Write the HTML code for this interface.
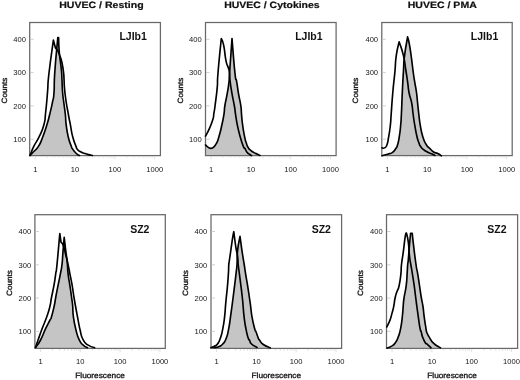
<!DOCTYPE html>
<html><head><meta charset="utf-8"><title>HUVEC flow cytometry</title>
<style>
html,body{margin:0;padding:0;background:#fff;}
body{width:520px;height:380px;overflow:hidden;}
svg{display:block;font-family:"Liberation Sans",Arial,sans-serif;}
.t{font-size:10.5px;font-weight:bold;fill:#111;}
.t2{text-rendering:geometricPrecision;font-weight:bold;fill:#111;stroke:#111;stroke-width:0.2px;}
.k{font-size:8px;fill:#151515;}
.a{font-size:7.7px;fill:#111;stroke:#111;stroke-width:0.3px;text-rendering:geometricPrecision;}
.f{fill:none;stroke:#686868;stroke-width:1.25;}
.c{fill:none;stroke:#000;stroke-width:1.65;stroke-linejoin:round;stroke-linecap:round;}
.g{fill:#c5c5c5;stroke:none;}
.tk{stroke:#d8d8d8;stroke-width:0.8;fill:none;}
.ty{stroke:#c4c4c4;}
</style></head><body>
<svg width="520" height="380" viewBox="0 0 520 380">
<rect width="520" height="380" fill="#fff"/>
<g id="p1">
<path class="g" d="M30.0,155.6 L30.0,155.5 C30.9,154.5 30.4,155.0 33.0,152.2 C35.6,149.4 35.7,150.8 38.6,146.1 C41.5,141.4 40.3,143.1 42.8,136.7 C45.3,130.3 44.8,131.6 46.9,124.8 C49.0,118.0 48.1,120.8 49.8,114.0 C51.5,107.2 51.2,108.5 52.5,102.0 C53.8,95.5 53.3,101.5 54.0,92.5 C54.7,83.5 53.7,88.5 54.8,72.0 C55.9,55.5 56.9,47.9 57.8,37.6 C58.0,37.6 58.4,37.6 58.6,37.6 C58.8,41.7 58.4,41.6 59.2,51.3 C60.0,61.0 60.6,61.4 61.4,70.0 C62.2,78.6 61.6,73.2 62.0,80.0 C62.4,86.8 62.0,85.3 62.6,92.5 C63.2,99.7 63.2,97.5 64.0,104.0 C64.8,110.5 64.6,107.8 65.3,114.0 C66.0,120.2 65.3,118.0 66.2,124.8 C67.1,131.6 66.7,130.3 68.2,136.7 C69.7,143.1 69.9,142.4 71.2,146.1 C72.5,149.8 71.5,147.1 72.6,148.9 C73.7,150.7 73.4,150.3 74.9,152.0 C76.4,153.7 76.3,153.5 77.7,154.6 C79.1,155.7 79.0,155.2 79.5,155.5 L79.5,155.6Z"/>
<rect class="f" x="29.7" y="22.5" width="130.7" height="133.1"/>
<path class="tk" d="M35.3,156.1v3.2M47.3,156.1v1.8M54.3,156.1v1.8M59.3,156.1v1.8M63.1,156.1v1.8M66.3,156.1v1.8M68.9,156.1v1.8M71.2,156.1v1.8M73.3,156.1v1.8M75.1,156.1v3.2M87.1,156.1v1.8M94.1,156.1v1.8M99.1,156.1v1.8M102.9,156.1v1.8M106.1,156.1v1.8M108.7,156.1v1.8M111.0,156.1v1.8M113.1,156.1v1.8M114.9,156.1v3.2M126.9,156.1v1.8M133.9,156.1v1.8M138.9,156.1v1.8M142.7,156.1v1.8M145.9,156.1v1.8M148.5,156.1v1.8M150.8,156.1v1.8M152.9,156.1v1.8M154.7,156.1v3.2"/>
<path class="tk ty" d="M30.2,39.3h3.5M30.2,72.6h3.5M30.2,105.9h3.5M30.2,139.2h3.5"/>
<path class="c" d="M30.0,155.5 C30.9,154.5 30.4,155.0 33.0,152.2 C35.6,149.4 35.7,150.8 38.6,146.1 C41.5,141.4 40.3,143.1 42.8,136.7 C45.3,130.3 44.8,131.6 46.9,124.8 C49.0,118.0 48.1,120.8 49.8,114.0 C51.5,107.2 51.2,108.5 52.5,102.0 C53.8,95.5 53.3,101.5 54.0,92.5 C54.7,83.5 53.7,88.5 54.8,72.0 C55.9,55.5 56.9,47.9 57.8,37.6 C58.0,37.6 58.4,37.6 58.6,37.6 C58.8,41.7 58.4,41.6 59.2,51.3 C60.0,61.0 60.6,61.4 61.4,70.0 C62.2,78.6 61.6,73.2 62.0,80.0 C62.4,86.8 62.0,85.3 62.6,92.5 C63.2,99.7 63.2,97.5 64.0,104.0 C64.8,110.5 64.6,107.8 65.3,114.0 C66.0,120.2 65.3,118.0 66.2,124.8 C67.1,131.6 66.7,130.3 68.2,136.7 C69.7,143.1 69.9,142.4 71.2,146.1 C72.5,149.8 71.5,147.1 72.6,148.9 C73.7,150.7 73.4,150.3 74.9,152.0 C76.4,153.7 76.3,153.5 77.7,154.6 C79.1,155.7 79.0,155.2 79.5,155.5"/>
<path class="c" d="M30.0,155.5 C31.2,152.7 31.1,151.7 33.9,146.1 C36.7,140.5 36.2,143.1 39.2,136.7 C42.2,130.3 42.0,131.9 43.9,124.8 C45.8,117.7 44.5,122.7 45.6,113.0 C46.7,103.3 46.5,104.5 47.5,92.5 C48.5,80.5 47.2,88.7 49.0,73.0 C50.8,57.3 52.1,50.0 53.4,40.1 C54.0,42.4 54.8,45.5 55.4,47.8 C56.5,49.6 56.7,47.3 59.0,53.7 C61.3,60.1 61.3,57.4 63.1,69.0 C64.9,80.6 63.3,79.0 64.9,92.5 C66.5,106.0 66.6,104.3 68.3,114.0 C70.0,123.7 69.1,118.0 70.4,124.8 C71.7,131.6 71.0,130.3 72.7,136.7 C74.4,143.1 74.5,142.3 75.9,146.1 C77.3,149.9 76.1,147.8 77.5,149.5 C78.9,151.2 78.6,150.7 80.6,151.8 C82.5,152.9 81.7,152.4 84.0,153.2 C86.3,154.0 85.9,153.9 88.4,154.6 C91.0,155.3 91.3,155.2 92.5,155.5"/>
<text class="k" text-anchor="end" transform="translate(26.0,42.0) scale(0.95,1)">400</text>
<text class="k" text-anchor="end" transform="translate(26.0,75.3) scale(0.95,1)">300</text>
<text class="k" text-anchor="end" transform="translate(26.0,108.6) scale(0.95,1)">200</text>
<text class="k" text-anchor="end" transform="translate(26.0,141.9) scale(0.95,1)">100</text>
<text class="k" text-anchor="middle" transform="translate(35.3,171.7) scale(0.95,1)">1</text>
<text class="k" text-anchor="middle" transform="translate(75.1,171.7) scale(0.95,1)">10</text>
<text class="k" text-anchor="middle" transform="translate(114.9,171.7) scale(0.95,1)">100</text>
<text class="k" text-anchor="middle" transform="translate(154.7,171.7) scale(0.95,1)">1000</text>
<text class="a" text-anchor="middle" transform="translate(6.8,90.5) rotate(-90) scale(1.06,1)">Counts</text>
<text class="t" text-anchor="end" x="146.9" y="40.3">LJIb1</text>
<text class="t2" style="font-size:9.2px" transform="translate(59.25,8.1) scale(1.1480,1)">HUVEC / Resting</text>
</g>
<g id="p2">
<path class="g" d="M205.5,155.6 L205.5,145.0 C207.1,146.0 207.7,148.3 210.7,148.3 C213.7,148.3 212.9,148.5 215.4,145.0 C217.9,141.5 217.0,142.8 218.9,136.7 C220.8,130.6 220.4,131.6 221.9,124.8 C223.4,118.0 223.1,119.8 224.0,114.0 C224.9,108.2 223.9,111.6 224.9,105.5 C225.9,99.4 226.0,100.8 227.2,93.7 C228.4,86.6 228.3,88.1 229.0,81.8 C229.7,75.5 228.7,85.6 229.6,72.6 C230.5,59.6 231.3,48.7 232.0,38.5 C232.9,48.7 233.5,59.5 234.9,72.5 C236.3,85.5 235.6,75.4 236.7,81.8 C237.8,88.2 237.3,86.6 238.5,93.7 C239.7,100.8 239.9,99.4 240.8,105.5 C241.7,111.6 241.0,108.2 241.5,114.0 C242.0,119.8 241.7,118.0 242.6,124.8 C243.5,131.6 243.5,131.2 244.6,136.7 C245.7,142.2 245.2,139.7 246.3,143.0 C247.4,146.3 246.9,145.5 248.3,147.8 C249.7,150.1 249.3,149.2 251.0,150.6 C252.7,152.0 252.1,151.5 254.0,152.6 C255.9,153.7 255.7,153.4 257.5,154.3 C259.3,155.2 259.2,155.1 260.0,155.5 L260.0,155.6Z"/>
<rect class="f" x="205.5" y="22.5" width="130.6" height="133.1"/>
<path class="tk" d="M211.1,156.1v3.2M223.1,156.1v1.8M230.1,156.1v1.8M235.1,156.1v1.8M238.9,156.1v1.8M242.1,156.1v1.8M244.7,156.1v1.8M247.0,156.1v1.8M249.1,156.1v1.8M250.9,156.1v3.2M262.9,156.1v1.8M269.9,156.1v1.8M274.9,156.1v1.8M278.7,156.1v1.8M281.9,156.1v1.8M284.5,156.1v1.8M286.8,156.1v1.8M288.9,156.1v1.8M290.7,156.1v3.2M302.7,156.1v1.8M309.7,156.1v1.8M314.7,156.1v1.8M318.5,156.1v1.8M321.7,156.1v1.8M324.3,156.1v1.8M326.6,156.1v1.8M328.7,156.1v1.8M330.5,156.1v3.2"/>
<path class="tk ty" d="M206.0,39.3h3.5M206.0,72.6h3.5M206.0,105.9h3.5M206.0,139.2h3.5"/>
<path class="c" d="M205.5,145.0 C207.1,146.0 207.7,148.3 210.7,148.3 C213.7,148.3 212.9,148.5 215.4,145.0 C217.9,141.5 217.0,142.8 218.9,136.7 C220.8,130.6 220.4,131.6 221.9,124.8 C223.4,118.0 223.1,119.8 224.0,114.0 C224.9,108.2 223.9,111.6 224.9,105.5 C225.9,99.4 226.0,100.8 227.2,93.7 C228.4,86.6 228.3,88.1 229.0,81.8 C229.7,75.5 228.7,85.6 229.6,72.6 C230.5,59.6 231.3,48.7 232.0,38.5 C232.9,48.7 233.5,59.5 234.9,72.5 C236.3,85.5 235.6,75.4 236.7,81.8 C237.8,88.2 237.3,86.6 238.5,93.7 C239.7,100.8 239.9,99.4 240.8,105.5 C241.7,111.6 241.0,108.2 241.5,114.0 C242.0,119.8 241.7,118.0 242.6,124.8 C243.5,131.6 243.5,131.2 244.6,136.7 C245.7,142.2 245.2,139.7 246.3,143.0 C247.4,146.3 246.9,145.5 248.3,147.8 C249.7,150.1 249.3,149.2 251.0,150.6 C252.7,152.0 252.1,151.5 254.0,152.6 C255.9,153.7 255.7,153.4 257.5,154.3 C259.3,155.2 259.2,155.1 260.0,155.5"/>
<path class="c" d="M205.5,136.1 C206.7,133.8 207.2,133.6 209.5,128.4 C211.8,123.2 211.7,123.2 213.0,118.9 C214.3,114.6 213.2,118.0 213.8,114.0 C214.4,110.0 214.1,113.4 215.1,105.5 C216.1,97.6 216.3,97.5 217.2,87.8 C218.1,78.0 216.8,87.8 218.0,73.0 C219.2,58.2 220.3,48.9 221.3,38.5 C222.0,40.6 222.3,38.7 223.7,45.4 C225.1,52.1 224.6,54.0 226.0,60.8 C227.4,67.5 227.3,64.2 228.4,67.9 C229.5,71.6 229.0,68.8 229.5,73.0 C230.0,77.2 229.4,75.6 230.2,81.8 C230.9,88.0 230.8,86.6 232.0,93.7 C233.2,100.8 233.2,99.4 234.3,105.5 C235.4,111.6 234.6,108.2 235.5,114.0 C236.4,119.8 235.9,118.0 237.3,124.8 C238.7,131.6 238.4,130.2 240.2,136.7 C242.0,143.2 241.9,142.8 243.3,146.3 C244.7,149.8 243.9,146.8 245.0,148.5 C246.1,150.2 245.4,150.2 246.8,152.0 C248.2,153.8 248.4,153.4 249.8,154.5 C251.2,155.6 251.1,155.3 251.6,155.6"/>
<text class="k" text-anchor="end" transform="translate(201.8,42.0) scale(0.95,1)">400</text>
<text class="k" text-anchor="end" transform="translate(201.8,75.3) scale(0.95,1)">300</text>
<text class="k" text-anchor="end" transform="translate(201.8,108.6) scale(0.95,1)">200</text>
<text class="k" text-anchor="end" transform="translate(201.8,141.9) scale(0.95,1)">100</text>
<text class="k" text-anchor="middle" transform="translate(211.1,171.7) scale(0.95,1)">1</text>
<text class="k" text-anchor="middle" transform="translate(250.9,171.7) scale(0.95,1)">10</text>
<text class="k" text-anchor="middle" transform="translate(290.7,171.7) scale(0.95,1)">100</text>
<text class="k" text-anchor="middle" transform="translate(330.5,171.7) scale(0.95,1)">1000</text>
<text class="a" text-anchor="middle" transform="translate(182.6,90.5) rotate(-90) scale(1.06,1)">Counts</text>
<text class="t" text-anchor="end" x="322.6" y="40.3">LJIb1</text>
<text class="t2" style="font-size:9.2px" transform="translate(224.20,8.1) scale(1.1403,1)">HUVEC / Cytokines</text>
</g>
<g id="p3">
<path class="g" d="M382.0,155.6 L382.0,155.8 C383.6,155.3 384.4,155.2 387.5,154.2 C390.6,153.2 389.7,154.3 392.2,152.6 C394.7,150.9 394.2,150.8 395.8,148.5 C397.4,146.2 396.4,148.5 397.5,145.0 C398.6,141.5 398.3,142.8 399.3,136.7 C400.3,130.6 400.1,131.6 400.7,124.8 C401.3,118.0 400.9,123.7 401.4,114.0 C401.9,104.3 401.7,105.1 402.3,92.5 C402.9,79.9 402.7,83.1 403.4,72.0 C404.1,60.9 403.3,65.9 404.6,55.4 C405.9,44.9 406.7,42.5 407.6,36.9 C408.3,40.2 408.3,37.3 410.0,47.8 C411.7,58.3 411.8,61.8 413.2,72.0 C414.6,82.2 413.7,75.6 414.7,81.8 C415.7,88.0 415.6,86.1 416.5,92.5 C417.4,98.9 416.9,96.5 417.6,103.0 C418.3,109.5 418.0,107.5 418.8,114.0 C419.6,120.5 419.0,118.0 420.2,124.8 C421.4,131.6 421.0,130.8 422.8,136.7 C424.6,142.6 424.0,140.9 426.2,144.5 C428.4,148.1 427.8,146.3 430.0,148.6 C432.2,150.8 431.3,150.6 433.6,152.0 C435.9,153.4 435.5,152.3 437.8,153.4 C440.1,154.5 440.3,155.1 441.4,155.8 L441.4,155.6Z"/>
<rect class="f" x="381.8" y="22.5" width="130.4" height="133.1"/>
<path class="tk" d="M387.4,156.1v3.2M399.4,156.1v1.8M406.4,156.1v1.8M411.4,156.1v1.8M415.2,156.1v1.8M418.4,156.1v1.8M421.0,156.1v1.8M423.3,156.1v1.8M425.4,156.1v1.8M427.2,156.1v3.2M439.2,156.1v1.8M446.2,156.1v1.8M451.2,156.1v1.8M455.0,156.1v1.8M458.2,156.1v1.8M460.8,156.1v1.8M463.1,156.1v1.8M465.2,156.1v1.8M467.0,156.1v3.2M479.0,156.1v1.8M486.0,156.1v1.8M491.0,156.1v1.8M494.8,156.1v1.8M498.0,156.1v1.8M500.6,156.1v1.8M502.9,156.1v1.8M505.0,156.1v1.8M506.8,156.1v3.2"/>
<path class="tk ty" d="M382.3,39.3h3.5M382.3,72.6h3.5M382.3,105.9h3.5M382.3,139.2h3.5"/>
<path class="c" d="M382.0,155.8 C383.6,155.3 384.4,155.2 387.5,154.2 C390.6,153.2 389.7,154.3 392.2,152.6 C394.7,150.9 394.2,150.8 395.8,148.5 C397.4,146.2 396.4,148.5 397.5,145.0 C398.6,141.5 398.3,142.8 399.3,136.7 C400.3,130.6 400.1,131.6 400.7,124.8 C401.3,118.0 400.9,123.7 401.4,114.0 C401.9,104.3 401.7,105.1 402.3,92.5 C402.9,79.9 402.7,83.1 403.4,72.0 C404.1,60.9 403.3,65.9 404.6,55.4 C405.9,44.9 406.7,42.5 407.6,36.9 C408.3,40.2 408.3,37.3 410.0,47.8 C411.7,58.3 411.8,61.8 413.2,72.0 C414.6,82.2 413.7,75.6 414.7,81.8 C415.7,88.0 415.6,86.1 416.5,92.5 C417.4,98.9 416.9,96.5 417.6,103.0 C418.3,109.5 418.0,107.5 418.8,114.0 C419.6,120.5 419.0,118.0 420.2,124.8 C421.4,131.6 421.0,130.8 422.8,136.7 C424.6,142.6 424.0,140.9 426.2,144.5 C428.4,148.1 427.8,146.3 430.0,148.6 C432.2,150.8 431.3,150.6 433.6,152.0 C435.9,153.4 435.5,152.3 437.8,153.4 C440.1,154.5 440.3,155.1 441.4,155.8"/>
<path class="c" d="M382.0,147.9 C382.8,147.9 383.0,148.8 384.5,147.9 C386.0,147.0 385.6,148.4 386.9,145.0 C388.2,141.6 387.6,142.8 388.7,136.7 C389.8,130.6 389.6,131.6 390.4,124.8 C391.1,118.0 390.5,123.7 391.2,114.0 C391.9,104.3 391.7,105.1 392.8,92.5 C393.9,79.9 393.8,83.1 394.9,72.0 C395.9,60.9 395.0,64.5 396.3,55.4 C397.6,46.3 398.3,45.9 399.1,41.8 C400.4,45.9 401.4,46.9 403.4,55.4 C405.4,63.9 404.5,62.1 405.8,70.0 C407.1,77.9 406.6,75.0 407.6,81.8 C408.6,88.5 407.8,86.1 409.0,92.5 C410.2,98.9 410.5,96.5 411.7,103.0 C412.9,109.5 412.2,107.5 413.1,114.0 C414.0,120.5 413.5,118.0 414.7,124.8 C415.9,131.6 415.7,131.3 417.0,136.7 C418.3,142.1 417.8,139.9 418.9,142.8 C419.9,145.7 419.2,144.4 420.5,146.3 C421.8,148.2 420.9,147.5 423.2,149.3 C425.5,151.1 425.4,150.9 428.3,152.4 C431.2,153.9 431.1,153.5 433.0,154.4 C434.9,155.3 434.3,155.2 434.8,155.5"/>
<text class="k" text-anchor="end" transform="translate(378.1,42.0) scale(0.95,1)">400</text>
<text class="k" text-anchor="end" transform="translate(378.1,75.3) scale(0.95,1)">300</text>
<text class="k" text-anchor="end" transform="translate(378.1,108.6) scale(0.95,1)">200</text>
<text class="k" text-anchor="end" transform="translate(378.1,141.9) scale(0.95,1)">100</text>
<text class="k" text-anchor="middle" transform="translate(387.4,171.7) scale(0.95,1)">1</text>
<text class="k" text-anchor="middle" transform="translate(427.2,171.7) scale(0.95,1)">10</text>
<text class="k" text-anchor="middle" transform="translate(467.0,171.7) scale(0.95,1)">100</text>
<text class="k" text-anchor="middle" transform="translate(506.8,171.7) scale(0.95,1)">1000</text>
<text class="a" text-anchor="middle" transform="translate(357.9,90.5) rotate(-90) scale(1.06,1)">Counts</text>
<text class="t" text-anchor="end" x="498.3" y="40.3">LJIb1</text>
<text class="t2" style="font-size:9.2px" transform="translate(407.75,8.1) scale(1.1456,1)">HUVEC / PMA</text>
</g>
<g id="p4">
<path class="g" d="M35.5,348.4 L35.5,347.5 C36.9,345.4 37.3,346.1 40.3,340.5 C43.3,334.9 42.8,334.7 45.6,328.7 C48.5,322.7 48.0,324.0 49.8,320.4 C51.6,316.8 50.2,321.1 51.5,316.8 C52.8,312.5 52.9,311.8 54.2,306.0 C55.5,300.2 54.6,303.6 55.7,297.5 C56.8,291.4 56.6,292.8 58.0,285.7 C59.4,278.6 59.2,280.2 60.4,273.8 C61.6,267.4 61.2,271.2 62.0,264.5 C62.8,257.8 62.3,259.7 63.0,251.6 C63.7,243.5 63.8,241.7 64.2,237.4 C64.7,241.3 64.8,243.0 65.7,250.4 C66.6,257.8 66.5,255.0 67.2,262.0 C67.9,269.0 67.3,266.7 68.1,273.8 C68.9,280.9 68.9,278.6 69.9,285.7 C71.0,292.8 70.8,291.4 71.6,297.5 C72.4,303.6 72.2,300.2 72.7,306.0 C73.2,311.8 72.4,309.6 73.4,316.8 C74.4,324.0 74.2,322.9 76.0,330.0 C77.8,337.1 77.2,335.7 79.5,340.3 C81.8,344.9 81.1,343.1 83.5,345.3 C85.9,347.5 86.3,347.0 87.5,347.7 L87.5,348.4Z"/>
<rect class="f" x="34.9" y="214.7" width="130.4" height="133.7"/>
<path class="tk" d="M40.5,348.9v3.2M52.5,348.9v1.8M59.5,348.9v1.8M64.5,348.9v1.8M68.3,348.9v1.8M71.5,348.9v1.8M74.1,348.9v1.8M76.4,348.9v1.8M78.5,348.9v1.8M80.3,348.9v3.2M92.3,348.9v1.8M99.3,348.9v1.8M104.3,348.9v1.8M108.1,348.9v1.8M111.3,348.9v1.8M113.9,348.9v1.8M116.2,348.9v1.8M118.3,348.9v1.8M120.1,348.9v3.2M132.1,348.9v1.8M139.1,348.9v1.8M144.1,348.9v1.8M147.9,348.9v1.8M151.1,348.9v1.8M153.7,348.9v1.8M156.0,348.9v1.8M158.1,348.9v1.8M159.9,348.9v3.2"/>
<path class="tk ty" d="M35.4,231.5h3.5M35.4,264.8h3.5M35.4,298.1h3.5M35.4,331.4h3.5"/>
<path class="c" d="M35.5,347.5 C36.9,345.4 37.3,346.1 40.3,340.5 C43.3,334.9 42.8,334.7 45.6,328.7 C48.5,322.7 48.0,324.0 49.8,320.4 C51.6,316.8 50.2,321.1 51.5,316.8 C52.8,312.5 52.9,311.8 54.2,306.0 C55.5,300.2 54.6,303.6 55.7,297.5 C56.8,291.4 56.6,292.8 58.0,285.7 C59.4,278.6 59.2,280.2 60.4,273.8 C61.6,267.4 61.2,271.2 62.0,264.5 C62.8,257.8 62.3,259.7 63.0,251.6 C63.7,243.5 63.8,241.7 64.2,237.4 C64.7,241.3 64.8,243.0 65.7,250.4 C66.6,257.8 66.5,255.0 67.2,262.0 C67.9,269.0 67.3,266.7 68.1,273.8 C68.9,280.9 68.9,278.6 69.9,285.7 C71.0,292.8 70.8,291.4 71.6,297.5 C72.4,303.6 72.2,300.2 72.7,306.0 C73.2,311.8 72.4,309.6 73.4,316.8 C74.4,324.0 74.2,322.9 76.0,330.0 C77.8,337.1 77.2,335.7 79.5,340.3 C81.8,344.9 81.1,343.1 83.5,345.3 C85.9,347.5 86.3,347.0 87.5,347.7"/>
<path class="c" d="M35.5,347.5 C36.2,345.4 35.9,346.1 37.9,340.5 C39.9,334.9 39.4,335.8 42.1,328.7 C44.8,321.6 44.4,323.6 46.8,316.8 C49.2,310.0 48.6,311.8 50.0,306.0 C51.4,300.2 50.3,303.6 51.5,297.5 C52.7,291.4 52.6,292.8 53.9,285.7 C55.2,278.6 54.8,280.2 55.7,273.8 C56.6,267.4 55.8,276.6 57.0,264.5 C58.2,252.4 59.0,242.8 59.8,233.5 C60.2,236.1 60.6,239.5 61.0,242.1 C61.7,243.2 62.0,242.1 63.4,245.7 C64.8,249.3 64.3,249.1 65.5,254.0 C66.7,258.9 66.2,256.1 67.5,262.0 C68.8,267.9 68.5,266.7 69.9,273.8 C71.3,280.9 71.0,278.6 72.2,285.7 C73.4,292.8 73.0,291.4 74.0,297.5 C75.0,303.6 74.5,300.2 75.5,306.0 C76.5,311.8 76.1,309.6 77.5,316.8 C78.9,324.0 78.4,323.0 80.1,330.0 C81.8,337.0 80.7,335.5 83.3,340.1 C85.9,344.7 85.3,343.1 88.7,345.4 C92.1,347.7 92.8,347.0 94.6,347.7"/>
<text class="k" text-anchor="end" transform="translate(31.2,234.2) scale(0.95,1)">400</text>
<text class="k" text-anchor="end" transform="translate(31.2,267.5) scale(0.95,1)">300</text>
<text class="k" text-anchor="end" transform="translate(31.2,300.8) scale(0.95,1)">200</text>
<text class="k" text-anchor="end" transform="translate(31.2,334.1) scale(0.95,1)">100</text>
<text class="k" text-anchor="middle" transform="translate(40.5,364.1) scale(0.95,1)">1</text>
<text class="k" text-anchor="middle" transform="translate(80.3,364.1) scale(0.95,1)">10</text>
<text class="k" text-anchor="middle" transform="translate(120.1,364.1) scale(0.95,1)">100</text>
<text class="k" text-anchor="middle" transform="translate(159.9,364.1) scale(0.95,1)">1000</text>
<text class="a" text-anchor="middle" transform="translate(11.6,283) rotate(-90) scale(1.06,1)">Counts</text>
<text class="t" text-anchor="end" x="149.4" y="233.0">SZ2</text>
<text class="a" text-anchor="middle" transform="translate(100.1,378.4) scale(1.075,1)">Fluorescence</text>
</g>
<g id="p5">
<path class="g" d="M214.0,348.4 L214.0,347.6 C215.4,347.3 216.1,347.8 218.7,346.7 C221.3,345.6 220.5,346.6 222.8,344.0 C225.1,341.4 224.5,342.7 226.3,338.1 C228.1,333.5 227.4,335.1 228.7,328.7 C230.0,322.3 229.5,323.6 230.5,316.8 C231.5,310.0 231.2,311.8 232.0,306.0 C232.8,300.2 232.3,303.6 233.1,297.5 C233.9,291.4 233.7,292.8 234.6,285.7 C235.5,278.6 235.3,280.2 236.0,273.8 C236.7,267.4 236.5,271.5 237.0,264.5 C237.5,257.5 236.7,258.8 237.6,250.4 C238.5,242.0 239.3,240.6 240.0,236.4 C240.7,241.3 241.0,244.4 242.3,252.8 C243.6,261.2 243.2,258.2 244.2,264.5 C245.2,270.8 244.6,267.4 245.6,273.8 C246.6,280.2 246.5,278.6 247.6,285.7 C248.7,292.8 248.5,291.4 249.4,297.5 C250.3,303.6 249.8,300.2 250.6,306.0 C251.4,311.8 250.8,310.0 252.0,316.8 C253.2,323.6 253.5,324.2 254.7,328.7 C255.9,333.2 254.9,329.0 256.0,331.8 C257.1,334.6 257.2,335.6 258.3,338.1 C259.4,340.6 258.0,338.2 259.5,340.1 C261.0,342.0 260.1,342.2 263.3,344.5 C266.5,346.8 268.1,346.8 270.2,347.8 L270.2,348.4Z"/>
<rect class="f" x="211.0" y="214.7" width="130.6" height="133.7"/>
<path class="tk" d="M216.6,348.9v3.2M228.6,348.9v1.8M235.6,348.9v1.8M240.6,348.9v1.8M244.4,348.9v1.8M247.6,348.9v1.8M250.2,348.9v1.8M252.5,348.9v1.8M254.6,348.9v1.8M256.4,348.9v3.2M268.4,348.9v1.8M275.4,348.9v1.8M280.4,348.9v1.8M284.2,348.9v1.8M287.4,348.9v1.8M290.0,348.9v1.8M292.3,348.9v1.8M294.4,348.9v1.8M296.2,348.9v3.2M308.2,348.9v1.8M315.2,348.9v1.8M320.2,348.9v1.8M324.0,348.9v1.8M327.2,348.9v1.8M329.8,348.9v1.8M332.1,348.9v1.8M334.2,348.9v1.8M336.0,348.9v3.2"/>
<path class="tk ty" d="M211.5,231.5h3.5M211.5,264.8h3.5M211.5,298.1h3.5M211.5,331.4h3.5"/>
<path class="c" d="M214.0,347.6 C215.4,347.3 216.1,347.8 218.7,346.7 C221.3,345.6 220.5,346.6 222.8,344.0 C225.1,341.4 224.5,342.7 226.3,338.1 C228.1,333.5 227.4,335.1 228.7,328.7 C230.0,322.3 229.5,323.6 230.5,316.8 C231.5,310.0 231.2,311.8 232.0,306.0 C232.8,300.2 232.3,303.6 233.1,297.5 C233.9,291.4 233.7,292.8 234.6,285.7 C235.5,278.6 235.3,280.2 236.0,273.8 C236.7,267.4 236.5,271.5 237.0,264.5 C237.5,257.5 236.7,258.8 237.6,250.4 C238.5,242.0 239.3,240.6 240.0,236.4 C240.7,241.3 241.0,244.4 242.3,252.8 C243.6,261.2 243.2,258.2 244.2,264.5 C245.2,270.8 244.6,267.4 245.6,273.8 C246.6,280.2 246.5,278.6 247.6,285.7 C248.7,292.8 248.5,291.4 249.4,297.5 C250.3,303.6 249.8,300.2 250.6,306.0 C251.4,311.8 250.8,310.0 252.0,316.8 C253.2,323.6 253.5,324.2 254.7,328.7 C255.9,333.2 254.9,329.0 256.0,331.8 C257.1,334.6 257.2,335.6 258.3,338.1 C259.4,340.6 258.0,338.2 259.5,340.1 C261.0,342.0 260.1,342.2 263.3,344.5 C266.5,346.8 268.1,346.8 270.2,347.8"/>
<path class="c" d="M211.0,347.6 C211.9,347.2 212.0,347.5 213.9,346.4 C215.8,345.3 215.6,346.5 217.5,344.0 C219.4,341.5 218.8,342.7 220.4,338.1 C222.0,333.5 221.5,335.1 222.8,328.7 C224.1,322.3 223.8,323.6 224.6,316.8 C225.4,310.0 225.0,311.8 225.5,306.0 C226.0,300.2 225.7,303.6 226.3,297.5 C226.9,291.4 226.9,292.8 227.5,285.7 C228.1,278.6 228.0,280.2 228.4,273.8 C228.8,267.4 228.5,268.3 228.8,264.5 C229.1,260.7 228.2,268.4 229.3,261.0 C230.4,253.6 231.0,248.6 232.3,239.8 C233.7,231.0 233.4,234.1 233.8,231.7 C234.4,236.3 234.7,239.5 235.8,246.9 C236.9,254.3 236.9,251.0 237.6,256.3 C238.3,261.6 237.7,259.2 238.2,264.5 C238.7,269.8 238.6,267.4 239.4,273.8 C240.2,280.2 240.0,278.6 240.9,285.7 C241.8,292.8 241.6,291.4 242.3,297.5 C243.0,303.6 242.6,300.2 243.1,306.0 C243.6,311.8 243.3,310.0 244.1,316.8 C244.9,323.6 244.7,322.3 245.9,328.7 C247.1,335.1 247.1,334.7 248.2,338.1 C249.3,341.5 248.5,338.3 249.5,340.1 C250.5,341.9 249.2,341.8 251.5,344.0 C253.8,346.2 255.3,346.4 257.0,347.5"/>
<text class="k" text-anchor="end" transform="translate(207.3,234.2) scale(0.95,1)">400</text>
<text class="k" text-anchor="end" transform="translate(207.3,267.5) scale(0.95,1)">300</text>
<text class="k" text-anchor="end" transform="translate(207.3,300.8) scale(0.95,1)">200</text>
<text class="k" text-anchor="end" transform="translate(207.3,334.1) scale(0.95,1)">100</text>
<text class="k" text-anchor="middle" transform="translate(216.6,364.1) scale(0.95,1)">1</text>
<text class="k" text-anchor="middle" transform="translate(256.4,364.1) scale(0.95,1)">10</text>
<text class="k" text-anchor="middle" transform="translate(296.2,364.1) scale(0.95,1)">100</text>
<text class="k" text-anchor="middle" transform="translate(336.0,364.1) scale(0.95,1)">1000</text>
<text class="a" text-anchor="middle" transform="translate(187.6,283) rotate(-90) scale(1.06,1)">Counts</text>
<text class="t" text-anchor="end" x="330.9" y="233.0">SZ2</text>
<text class="a" text-anchor="middle" transform="translate(276.3,378.4) scale(1.075,1)">Fluorescence</text>
</g>
<g id="p6">
<path class="g" d="M387.0,348.4 L387.0,348.0 C388.2,347.5 388.6,347.9 391.1,346.4 C393.6,344.9 393.1,345.7 395.2,342.9 C397.3,340.1 396.6,341.3 398.2,337.0 C399.8,332.7 399.4,334.8 400.6,328.7 C401.8,322.6 401.5,323.6 402.3,316.8 C403.1,310.0 402.7,311.8 403.2,306.0 C403.7,300.2 403.2,303.6 404.1,297.5 C405.0,291.4 405.3,292.8 406.2,285.7 C407.1,278.6 406.7,280.2 407.1,273.8 C407.6,267.4 407.3,268.7 407.7,264.5 C408.1,260.3 407.8,265.5 408.3,259.9 C408.8,254.3 408.7,253.7 409.4,245.7 C410.1,237.7 410.2,236.9 410.6,233.2 C411.1,233.2 411.7,233.2 412.2,233.2 C412.6,236.9 412.5,236.3 413.6,245.7 C414.7,255.1 414.8,256.1 416.0,264.5 C417.2,272.9 416.6,267.4 417.7,273.8 C418.8,280.2 418.4,278.6 419.5,285.7 C420.6,292.8 420.3,291.4 421.3,297.5 C422.3,303.6 422.0,300.2 422.9,306.0 C423.8,311.8 423.3,310.0 424.2,316.8 C425.1,323.6 425.3,324.2 426.0,328.7 C426.7,333.2 426.1,330.0 426.6,331.8 C427.1,333.6 426.9,332.9 427.8,334.6 C428.7,336.3 427.7,335.0 429.5,337.6 C431.3,340.2 430.4,340.2 433.7,343.3 C437.0,346.4 438.5,346.5 440.5,347.9 L440.5,348.4Z"/>
<rect class="f" x="386.5" y="214.7" width="131.1" height="133.7"/>
<path class="tk" d="M392.1,348.9v3.2M404.1,348.9v1.8M411.1,348.9v1.8M416.1,348.9v1.8M419.9,348.9v1.8M423.1,348.9v1.8M425.7,348.9v1.8M428.0,348.9v1.8M430.1,348.9v1.8M431.9,348.9v3.2M443.9,348.9v1.8M450.9,348.9v1.8M455.9,348.9v1.8M459.7,348.9v1.8M462.9,348.9v1.8M465.5,348.9v1.8M467.8,348.9v1.8M469.9,348.9v1.8M471.7,348.9v3.2M483.7,348.9v1.8M490.7,348.9v1.8M495.7,348.9v1.8M499.5,348.9v1.8M502.7,348.9v1.8M505.3,348.9v1.8M507.6,348.9v1.8M509.7,348.9v1.8M511.5,348.9v3.2"/>
<path class="tk ty" d="M387.0,231.5h3.5M387.0,264.8h3.5M387.0,298.1h3.5M387.0,331.4h3.5"/>
<path class="c" d="M387.0,348.0 C388.2,347.5 388.6,347.9 391.1,346.4 C393.6,344.9 393.1,345.7 395.2,342.9 C397.3,340.1 396.6,341.3 398.2,337.0 C399.8,332.7 399.4,334.8 400.6,328.7 C401.8,322.6 401.5,323.6 402.3,316.8 C403.1,310.0 402.7,311.8 403.2,306.0 C403.7,300.2 403.2,303.6 404.1,297.5 C405.0,291.4 405.3,292.8 406.2,285.7 C407.1,278.6 406.7,280.2 407.1,273.8 C407.6,267.4 407.3,268.7 407.7,264.5 C408.1,260.3 407.8,265.5 408.3,259.9 C408.8,254.3 408.7,253.7 409.4,245.7 C410.1,237.7 410.2,236.9 410.6,233.2 C411.1,233.2 411.7,233.2 412.2,233.2 C412.6,236.9 412.5,236.3 413.6,245.7 C414.7,255.1 414.8,256.1 416.0,264.5 C417.2,272.9 416.6,267.4 417.7,273.8 C418.8,280.2 418.4,278.6 419.5,285.7 C420.6,292.8 420.3,291.4 421.3,297.5 C422.3,303.6 422.0,300.2 422.9,306.0 C423.8,311.8 423.3,310.0 424.2,316.8 C425.1,323.6 425.3,324.2 426.0,328.7 C426.7,333.2 426.1,330.0 426.6,331.8 C427.1,333.6 426.9,332.9 427.8,334.6 C428.7,336.3 427.7,335.0 429.5,337.6 C431.3,340.2 430.4,340.2 433.7,343.3 C437.0,346.4 438.5,346.5 440.5,347.9"/>
<path class="c" d="M386.8,326.9 C387.7,324.9 388.2,324.8 389.9,320.4 C391.5,316.0 391.1,316.4 392.3,312.1 C393.5,307.8 392.9,310.4 393.8,306.0 C394.7,301.6 394.2,301.8 395.2,297.5 C396.2,293.2 395.8,295.1 397.0,291.6 C398.2,288.1 397.9,291.0 399.1,285.7 C400.3,280.4 400.2,280.2 400.9,273.8 C401.6,267.4 400.7,271.5 401.5,264.5 C402.3,257.5 402.4,258.9 403.5,250.4 C404.6,241.9 404.4,241.4 405.3,236.2 C406.2,231.0 406.1,234.1 406.5,233.2 C407.0,235.9 407.4,235.5 408.3,242.1 C409.2,248.7 408.6,248.4 409.4,255.1 C410.1,261.8 409.9,258.9 410.8,264.5 C411.7,270.1 411.4,267.4 412.4,273.8 C413.4,280.2 413.2,278.6 414.2,285.7 C415.2,292.8 414.9,291.4 415.7,297.5 C416.5,303.6 416.0,300.2 416.8,306.0 C417.6,311.8 417.3,310.0 418.3,316.8 C419.3,323.6 419.2,324.2 420.1,328.7 C421.0,333.2 420.4,329.2 421.2,331.8 C422.0,334.4 421.4,334.1 422.7,337.4 C424.0,340.7 424.2,341.0 425.4,342.9 C426.6,344.8 424.9,342.2 426.6,343.7 C428.3,345.2 429.7,346.6 431.0,347.8"/>
<text class="k" text-anchor="end" transform="translate(382.8,234.2) scale(0.95,1)">400</text>
<text class="k" text-anchor="end" transform="translate(382.8,267.5) scale(0.95,1)">300</text>
<text class="k" text-anchor="end" transform="translate(382.8,300.8) scale(0.95,1)">200</text>
<text class="k" text-anchor="end" transform="translate(382.8,334.1) scale(0.95,1)">100</text>
<text class="k" text-anchor="middle" transform="translate(392.1,364.1) scale(0.95,1)">1</text>
<text class="k" text-anchor="middle" transform="translate(431.9,364.1) scale(0.95,1)">10</text>
<text class="k" text-anchor="middle" transform="translate(471.7,364.1) scale(0.95,1)">100</text>
<text class="k" text-anchor="middle" transform="translate(511.5,364.1) scale(0.95,1)">1000</text>
<text class="a" text-anchor="middle" transform="translate(363.4,283) rotate(-90) scale(1.06,1)">Counts</text>
<text class="t" text-anchor="end" x="506.6" y="233.0">SZ2</text>
<text class="a" text-anchor="middle" transform="translate(452.1,378.4) scale(1.075,1)">Fluorescence</text>
</g>
</svg></body></html>
